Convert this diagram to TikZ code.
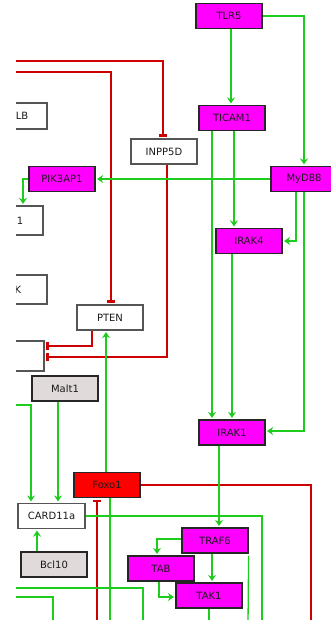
\documentclass[tikz,border=0pt]{standalone}
\usepackage{fontspec}
\setmainfont{DejaVu Sans}
\usetikzlibrary{arrows.meta,calc}
\definecolor{gact}{HTML}{1ECC1E}
\definecolor{rinh}{HTML}{CC0000}
\definecolor{mag}{HTML}{FF00FF}
\definecolor{gfill}{HTML}{E0DADA}
\definecolor{bordg}{HTML}{555555}
\definecolor{txt}{HTML}{1A1A1A}
\begin{document}
\begin{tikzpicture}[x=1pt,y=-1pt,
  box/.style={draw=bordg,line width=1.2pt,fill=white,minimum width=66pt,minimum height=25pt,inner sep=0pt,text=txt,font=\fontsize{10}{12}\selectfont},
  mbox/.style={box,draw=black!85,fill=mag},
  rbox/.style={box,draw=black!85,fill=red},
  gbox/.style={box,draw=black!85,fill=gfill},
  lbl/.style={text=txt,font=\fontsize{10}{12}\selectfont},
  act/.style={draw=gact,line width=1.3pt,-{Stealth[length=6pt,width=8pt,inset=2pt]},shorten >=1.5pt},
  gline/.style={draw=gact,line width=1.3pt},
  inh/.style={draw=rinh,line width=1.3pt,-{Bar[width=8pt,line width=2.6pt]},shorten >=1.5pt},
  rline/.style={draw=rinh,line width=1.3pt},
]
\useasboundingbox (0,0) rectangle (331,620);
\fill[white] (0,0) rectangle (331,620);
\clip (16,0) rectangle (331,620);

% nodes
\node[mbox] (TLR5) at (229,16) {TLR5};
\node[mbox] (TICAM1) at (232,118) {TICAM1};
\node[box] (INPP5D) at (164,151.5) {INPP5D};
\node[box,minimum height=26pt,label={[xshift=8pt,lbl]center:LB}] (CBLB) at (14,116) {};
\node[mbox] (PIK3AP1) at (62,179) {PIK3AP1};
\node[mbox] (MyD88) at (304,179) {MyD88};
\node[box,minimum height=29pt,label={[xshift=10pt,lbl]center:1}] (N1) at (10,220.5) {};
\node[mbox] (IRAK4) at (249,241) {IRAK4};
\node[box,minimum height=29pt,label={[xshift=4pt,lbl]center:K}] (NK) at (14,289.5) {};
\node[box] (PTEN) at (110,317.5) {PTEN};
\node[box,minimum height=30pt] (PIP3) at (11,356) {};
\node[gbox] (Malt1) at (65,388.5) {Malt1};
\node[mbox] (IRAK1) at (232,432.5) {IRAK1};
\node[rbox] (Foxo1) at (107,485) {Foxo1};
\node[box,minimum width=67pt] (CARD11a) at (51.5,516) {CARD11a};
\node[gbox] (Bcl10) at (54,564.5) {Bcl10};
\node[mbox] (TRAF6) at (215,540.5) {TRAF6};
\node[mbox] (TAB) at (161,568.5) {TAB};
\node[mbox] (TAK1) at (209,595.5) {TAK1};

% free ends
\coordinate (lA) at (5,61);
\coordinate (lB) at (5,72);
\coordinate (lC) at (12,85);
\coordinate (gA) at (5,405);
\coordinate (gB) at (5,588);
\coordinate (gC) at (5,597);
\coordinate (b1) at (262,625);
\coordinate (b2) at (248,625);
\coordinate (b3) at (311,625);
\coordinate (b4) at (97,625);
\coordinate (b5) at (110,625);
\coordinate (b6) at (209,625);
\coordinate (b7) at (143,625);
\coordinate (b8) at (53,625);

% red inhibition lines
\draw[inh] (lA) -| ([xshift=-1pt]INPP5D.north);
\draw[inh] (lB) -| ([xshift=1pt]PTEN.north);
\draw[inh] (lC) -- (lC |- CBLB.north);
\draw[inh] ([xshift=3pt]INPP5D.south) |- ([yshift=-1pt]PIP3.east);
\draw[inh] ([xshift=-18pt]PTEN.south) |- ([yshift=10pt]PIP3.east);
\draw[rline] (Foxo1.east) -| (b3);
\draw[inh] (b4) -- (b4 |- Foxo1.south);

% green activations
\draw[act] ([xshift=2pt]TLR5.south) -- ([xshift=-1pt]TICAM1.north);
\draw[act] (TLR5.east) -| (MyD88.north);
\draw[act] (MyD88.west) -- (PIK3AP1.east);
\draw[act] (PIK3AP1.west) -| ([xshift=13pt]N1.north);
\draw[act] ([xshift=2pt]TICAM1.south) -- ([xshift=2pt]TICAM1.south |- IRAK4.north);
\draw[act] ([xshift=-20pt]TICAM1.south) -- ([xshift=-20pt]TICAM1.south |- IRAK1.north);
\draw[act] ([xshift=-8pt]MyD88.south) |- (IRAK4.east);
\draw[act] (MyD88.south) |- ([yshift=1.5pt]IRAK1.east);
\draw[act] ([xshift=-17pt]IRAK4.south) -- ([xshift=-17pt]IRAK4.south |- IRAK1.north);
\draw[act] ([xshift=-1pt]Foxo1.north) -- ([xshift=-1pt]Foxo1.north |- PTEN.south);
\draw[act] (gA) -| ([xshift=-20.5pt]CARD11a.north);
\draw[act] ([xshift=-7pt]Malt1.south) -- ([xshift=-7pt]Malt1.south |- CARD11a.north);
\draw[act] ([xshift=-17pt]Bcl10.north) -- ([xshift=-17pt]Bcl10.north |- CARD11a.south);
\draw[gline] (CARD11a.east) -| (b1);
\draw[act] ([xshift=-13pt]IRAK1.south) -- ([xshift=-13pt]IRAK1.south |- TRAF6.north);
\draw[act] ([yshift=1.5pt]TRAF6.west) -| ([xshift=-4pt]TAB.north);
\draw[act] ([xshift=-3pt]TRAF6.south) -- ([xshift=-3pt]TRAF6.south |- TAK1.north);
\draw[act] ([xshift=-2pt]TAB.south) |- ([yshift=-1.5pt]TAK1.west);
\draw[gline] ([yshift=-2pt]TRAF6.south east) -- (b2);
\draw[gline] (TAK1.south) -- (b6);
\draw[gline] ([xshift=3pt]Foxo1.south) -- (b5);
\draw[gline] (gB) -| (b7);
\draw[gline] (gC) -| (b8);
\end{tikzpicture}
\end{document}
